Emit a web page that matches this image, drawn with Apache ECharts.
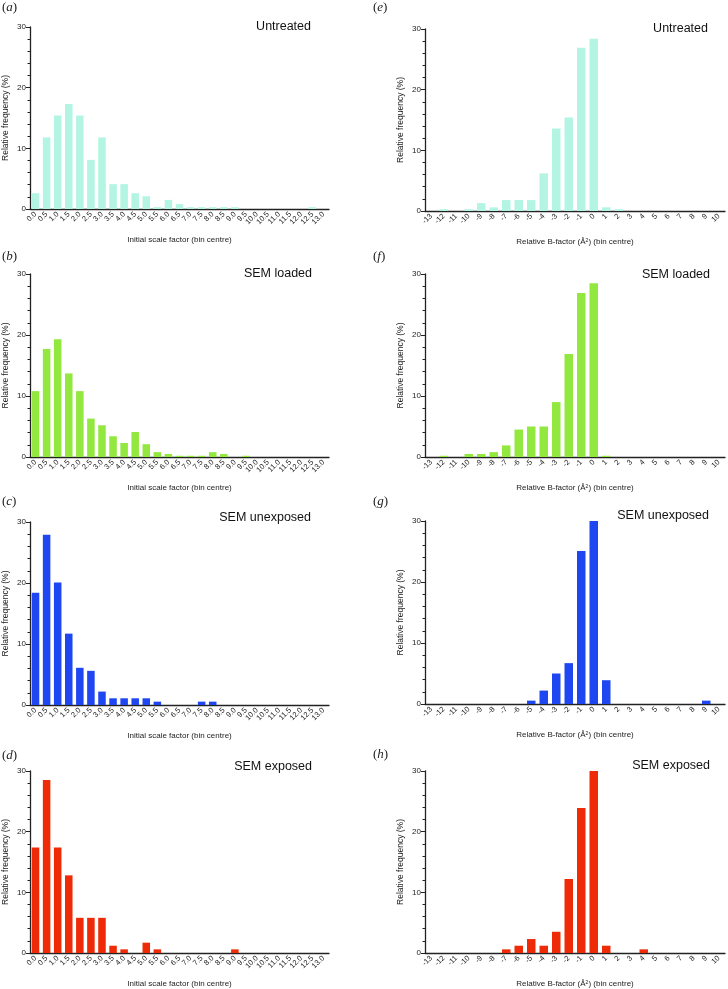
<!DOCTYPE html>
<html><head><meta charset="utf-8">
<script src="https://cdn.jsdelivr.net/npm/echarts@6/dist/echarts.min.js"></script>
<style>html,body{margin:0;padding:0;background:#fff}#c{width:728px;height:989px}</style>
</head><body><div id="c"></div>
<script>
const scaleCats = ['0.0','0.5','1.0','1.5','2.0','2.5','3.0','3.5','4.0','4.5','5.0','5.5','6.0','6.5','7.0','7.5','8.0','8.5','9.0','9.5','10.0','10.5','11.0','11.5','12.0','12.5','13.0'];
const bCats = ['-13','-12','-11','-10','-9','-8','-7','-6','-5','-4','-3','-2','-1','0','1','2','3','4','5','6','7','8','9','10'];
const yTicks = [0, 10, 20, 30];

const scaleUntreated   = [2.6,11.8,15.4,17.3,15.4,8.1,11.8,4.1,4.1,2.6,2.1,0.3,1.5,0.8,0.3,0.3,0.3,0.3,0.3,0,0,0,0,0,0,0.3,0];
const scaleLoaded      = [10.8,17.7,19.3,13.7,10.8,6.3,5.2,3.4,2.3,4.1,2.1,0.8,0.5,0.2,0.2,0.2,0.8,0.5,0,0.2,0,0,0,0,0,0,0];
const scaleUnexposed   = [18.4,27.9,20.1,11.7,6.1,5.6,2.2,1.1,1.1,1.1,1.1,0.55,0,0,0,0.55,0.55,0,0,0,0,0,0,0,0,0,0];
const scaleExposed     = [17.4,28.5,17.4,12.8,5.8,5.8,5.8,1.2,0.6,0,1.7,0.6,0,0,0,0,0,0,0.6,0,0,0,0,0,0,0,0];
const bUntreated       = [0,0.3,0,0.3,1.3,0.6,1.8,1.8,1.8,6.2,13.6,15.4,26.9,28.4,0.6,0.3,0,0,0,0,0,0,0,0];
const bLoaded          = [0,0.2,0,0.5,0.5,0.8,1.9,4.5,5.0,5.0,9.0,16.9,26.9,28.5,0.2,0,0,0,0,0,0,0,0,0];
const bUnexposed       = [0,0,0,0,0,0,0,0,0.55,2.2,5.0,6.7,25.1,30.0,3.9,0,0,0,0,0,0,0,0.55,0];
const bExposed         = [0,0,0,0,0,0,0.6,1.2,2.3,1.2,3.5,12.2,23.9,30.0,1.2,0,0,0.6,0,0,0,0,0,0];

const panels = [
  {letter:'a', cats:scaleCats, data:scaleUntreated, color:'#b3f5e2', label:'Untreated', xname:'Initial scale factor (bin centre)', left:29, width:300, top:27, h:182, lx:2, ly:8, tx:311, ty:27},
  {letter:'b', cats:scaleCats, data:scaleLoaded, color:'#92e83f', label:'SEM loaded', xname:'Initial scale factor (bin centre)', left:29, width:300, top:274, h:183, lx:2, ly:257, tx:312, ty:274},
  {letter:'c', cats:scaleCats, data:scaleUnexposed, color:'#1e47f2', label:'SEM unexposed', xname:'Initial scale factor (bin centre)', left:29, width:300, top:522, h:183, lx:2, ly:502, tx:311, ty:518},
  {letter:'d', cats:scaleCats, data:scaleExposed, color:'#ee2b06', label:'SEM exposed', xname:'Initial scale factor (bin centre)', left:29, width:300, top:771, h:183, lx:2, ly:756, tx:312, ty:767},
  {letter:'e', cats:bCats, data:bUntreated, color:'#b3f5e2', label:'Untreated', xname:'Relative B-factor (Å{s|2}) (bin centre)', left:425, width:300, top:29, h:182, lx:373, ly:8, tx:708, ty:29},
  {letter:'f', cats:bCats, data:bLoaded, color:'#92e83f', label:'SEM loaded', xname:'Relative B-factor (Å{s|2}) (bin centre)', left:425, width:300, top:274, h:183, lx:373, ly:257, tx:710, ty:275},
  {letter:'g', cats:bCats, data:bUnexposed, color:'#1e47f2', label:'SEM unexposed', xname:'Relative B-factor (Å{s|2}) (bin centre)', left:425, width:300, top:521, h:183, lx:373, ly:502, tx:709, ty:516},
  {letter:'h', cats:bCats, data:bExposed, color:'#ee2b06', label:'SEM exposed', xname:'Relative B-factor (Å{s|2}) (bin centre)', left:425, width:300, top:771, h:183, lx:373, ly:755, tx:710, ty:766}
];

const FONT = 'Liberation Sans, Arial, sans-serif';
const grid = [], xAxis = [], yAxis = [], series = [], graphic = [];
panels.forEach((p, i) => {
  grid.push({left:p.left, top:p.top, width:p.width, height:p.h});
  xAxis.push({
    type:'category', gridIndex:i, data:p.cats,
    axisLine:{lineStyle:{color:'#222', width:1.3}},
    axisTick:{alignWithLabel:true, length:3, lineStyle:{color:'#222'}},
    axisLabel:{interval:0, rotate:45, fontSize:7.5, color:'#222', fontFamily:FONT, margin:4},
    name:p.xname, nameLocation:'middle', nameGap:27,
    nameTextStyle:{fontSize:8, color:'#222', fontFamily:FONT, rich:{s:{fontSize:5, verticalAlign:'top', color:'#222'}}}
  });
  yAxis.push({
    type:'value', gridIndex:i, min:yTicks[0], max:yTicks[yTicks.length-1], interval:10,
    axisLine:{show:true, lineStyle:{color:'#222', width:1.3}},
    axisTick:{show:true, length:4, lineStyle:{color:'#222'}},
    minorTick:{show:true, splitNumber:5, length:2.5, lineStyle:{color:'#222'}},
    splitLine:{show:false},
    axisLabel:{fontSize:8, color:'#222', fontFamily:FONT, margin:4},
    name:'Relative frequency (%)', nameLocation:'middle', nameGap:i<4?20:20,
    nameTextStyle:{fontSize:8.5, color:'#222', fontFamily:FONT}
  });
  series.push({type:'bar', xAxisIndex:i, yAxisIndex:i, data:p.data, barCategoryGap:'32%', itemStyle:{color:p.color}, silent:true, animation:false});
  graphic.push({type:'text', left:p.lx, top:p.ly-7, style:{text:'({i|'+p.letter+'})', fill:'#222', font:'13px Liberation Serif, serif', rich:{i:{fontStyle:'italic', fontFamily:'Liberation Serif', fontSize:13}}}});
  graphic.push({type:'text', x:p.tx, y:p.ty, style:{text:p.label, fill:'#111', font:'12.5px '+FONT, align:'right', verticalAlign:'middle'}});
});

const chart = echarts.init(document.getElementById('c'));
chart.setOption({animation:false, grid, xAxis, yAxis, series, graphic});
</script></body></html>
